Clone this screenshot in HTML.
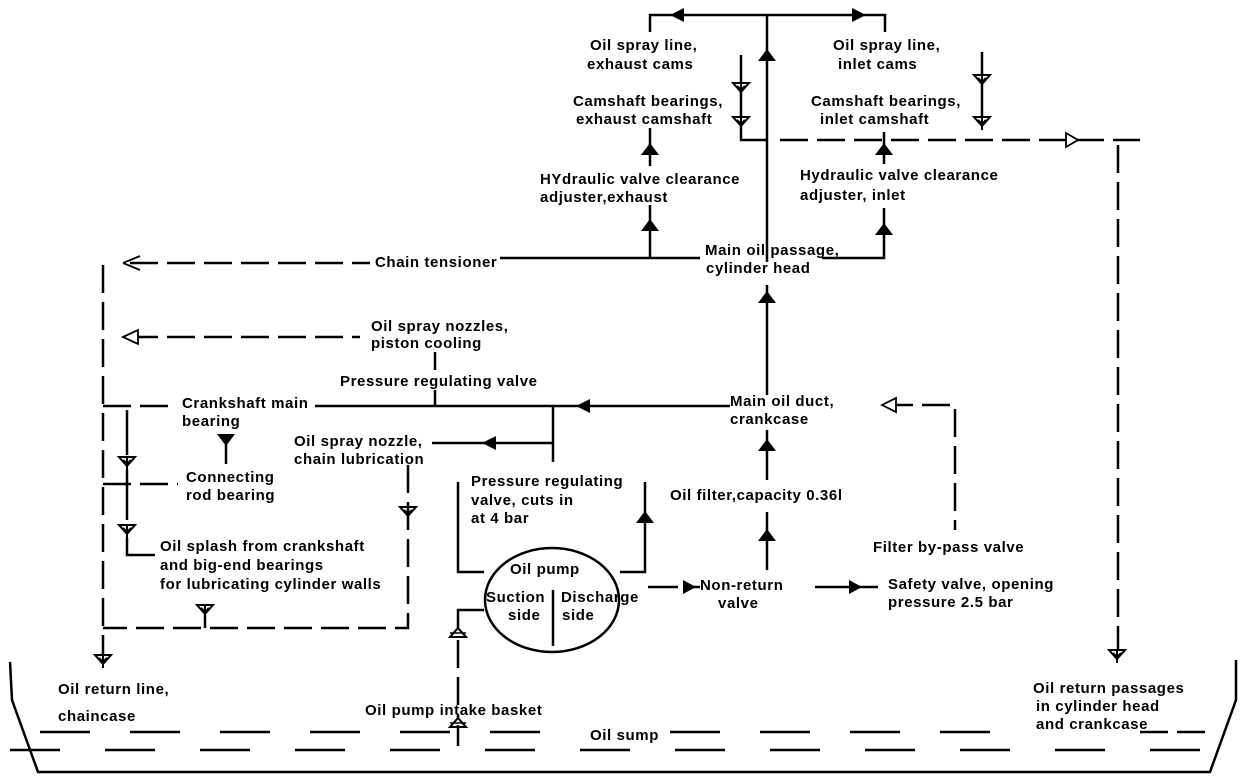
<!DOCTYPE html>
<html><head><meta charset="utf-8"><style>
html,body{margin:0;padding:0;background:#fff;}
svg{display:block;}
text{font-family:"Liberation Sans",sans-serif;font-weight:bold;font-size:15px;letter-spacing:0.6px;fill:#000;}
</style></head><body>
<svg width="1248" height="784" viewBox="0 0 1248 784" xmlns="http://www.w3.org/2000/svg">
<defs>
<g id="fu"><path d="M0,-9 L-9,3 L9,3 Z" fill="#000"/></g>
<g id="vd"><path d="M-8,-5 L8,-5 L0,4 Z M-4,-2 L0,2 L4,-2" fill="none" stroke="#000" stroke-width="2"/><line x1="0" y1="-5" x2="0" y2="8" stroke="#000" stroke-width="2"/></g>
<g id="vu"><path d="M-8,5 L8,5 L0,-4 Z" fill="none" stroke="#000" stroke-width="2"/><line x1="-8" y1="1" x2="8" y2="1" stroke="#000" stroke-width="1.5"/></g>
</defs>
<g stroke="#000" stroke-width="2.5" fill="none">
<polyline points="650,32 650,15 885,15 885,32"/>
<line x1="767" y1="15" x2="767" y2="262"/>
<line x1="767" y1="285" x2="767" y2="395"/>
<line x1="767" y1="430" x2="767" y2="480"/>
<line x1="767" y1="512" x2="767" y2="570"/>
<line x1="650" y1="128" x2="650" y2="166"/>
<line x1="650" y1="205" x2="650" y2="258"/>
<line x1="500" y1="258" x2="700" y2="258"/>
<polyline points="822,258 884,258 884,208"/>
<line x1="884" y1="132" x2="884" y2="164"/>
<polyline points="741,55 741,84"/>
<polyline points="741,92 741,118"/>
<polyline points="741,126 741,140 767,140"/>
<line x1="982" y1="52" x2="982" y2="76"/>
<line x1="982" y1="84" x2="982" y2="118"/>
<line x1="435" y1="352" x2="435" y2="370"/>
<line x1="435" y1="390" x2="435" y2="406"/>
<line x1="315" y1="406" x2="730" y2="406"/>
<line x1="553" y1="406" x2="553" y2="462"/>
<line x1="432" y1="443" x2="553" y2="443"/>
<line x1="226" y1="440" x2="226" y2="464"/>
<polyline points="127,410 127,455"/>
<polyline points="127,470 127,520"/>
<polyline points="127,538 127,555 155,555"/>
<polyline points="458,482 458,572 484,572"/>
<polyline points="620,572 645,572 645,482"/>
<line x1="553" y1="590" x2="553" y2="646"/>
<polyline points="484,610 458,610 458,630"/>
<line x1="815" y1="587" x2="878" y2="587"/>
<line x1="648" y1="587" x2="700" y2="587" stroke-dasharray="30,5"/>
<line x1="458" y1="725" x2="458" y2="746"/>
</g>
<ellipse cx="552" cy="600" rx="67" ry="52" fill="none" stroke="#000" stroke-width="2.5"/>
<g stroke="#000" stroke-width="2.5" fill="none" stroke-dasharray="28,9">
<line x1="780" y1="140" x2="1140" y2="140"/>
<line x1="1118" y1="145" x2="1118" y2="650"/>
<line x1="130" y1="263" x2="370" y2="263"/>
<line x1="103" y1="265" x2="103" y2="655"/>
<line x1="130" y1="337" x2="360" y2="337"/>
<line x1="103" y1="406" x2="175" y2="406"/>
<line x1="103" y1="484" x2="178" y2="484"/>
<polyline points="408,465 408,628 103,628"/>
<line x1="205" y1="615" x2="205" y2="628"/>
<polyline points="885,405 955,405 955,530"/>
<line x1="458" y1="640" x2="458" y2="718"/>
<line x1="40" y1="732" x2="580" y2="732" stroke-dasharray="50,40"/>
<line x1="670" y1="732" x2="1030" y2="732" stroke-dasharray="50,40"/>
<line x1="1140" y1="732" x2="1210" y2="732"/>
<line x1="10" y1="750" x2="1200" y2="750" stroke-dasharray="50,45"/>
</g>
<polyline points="10,662 12,700 38,772 1210,772 1236,700 1236,660" fill="none" stroke="#000" stroke-width="2.5"/>
<path d="M670,15 L684,8 L684,22 Z"/>
<path d="M866,15 L852,8 L852,22 Z"/>
<use href="#fu" x="767" y="58"/>
<use href="#fu" x="650" y="152"/>
<use href="#fu" x="650" y="228"/>
<use href="#fu" x="884" y="152"/>
<use href="#fu" x="884" y="232"/>
<use href="#fu" x="767" y="300"/>
<use href="#fu" x="767" y="448"/>
<use href="#fu" x="767" y="538"/>
<use href="#fu" x="645" y="520"/>
<path d="M576,406 L590,399 L590,413 Z"/>
<path d="M482,443 L496,436 L496,450 Z"/>
<path d="M226,446 L217,434 L235,434 Z"/>
<path d="M696,587 L683,580 L683,594 Z"/>
<path d="M862,587 L849,580 L849,594 Z"/>
<g fill="#fff" stroke="#000" stroke-width="1.8">
<path d="M1078,140 L1066,133 L1066,147 Z"/>
<path d="M123,263 L140,256 M123,263 L140,270"/>
<path d="M123,337 L138,330 L138,344 Z"/>
<path d="M882,405 L896,398 L896,412 Z"/>
</g>
<use href="#vd" x="741" y="88"/>
<use href="#vd" x="741" y="122"/>
<use href="#vd" x="982" y="80"/>
<use href="#vd" x="982" y="122"/>
<use href="#vd" x="1117" y="655"/>
<use href="#vd" x="103" y="660"/>
<use href="#vd" x="127" y="462"/>
<use href="#vd" x="127" y="530"/>
<use href="#vd" x="408" y="512"/>
<use href="#vd" x="205" y="610"/>
<use href="#vu" x="458" y="632"/>
<use href="#vu" x="458" y="722"/>
<text x="590" y="50">Oil spray line,</text>
<text x="587" y="69">exhaust cams</text>
<text x="833" y="50">Oil spray line,</text>
<text x="838" y="69">inlet cams</text>
<text x="573" y="106">Camshaft bearings,</text>
<text x="576" y="124">exhaust camshaft</text>
<text x="811" y="106">Camshaft bearings,</text>
<text x="820" y="124">inlet camshaft</text>
<text x="540" y="184">HYdraulic valve clearance</text>
<text x="540" y="202">adjuster,exhaust</text>
<text x="800" y="180">Hydraulic valve clearance</text>
<text x="800" y="200">adjuster, inlet</text>
<text x="705" y="255">Main oil passage,</text>
<text x="706" y="273">cylinder head</text>
<text x="375" y="267">Chain tensioner</text>
<text x="371" y="331">Oil spray nozzles,</text>
<text x="371" y="348">piston cooling</text>
<text x="340" y="386">Pressure regulating valve</text>
<text x="182" y="408">Crankshaft main</text>
<text x="182" y="426">bearing</text>
<text x="730" y="406">Main oil duct,</text>
<text x="730" y="424">crankcase</text>
<text x="294" y="446">Oil spray nozzle,</text>
<text x="294" y="464">chain lubrication</text>
<text x="186" y="482">Connecting</text>
<text x="186" y="500">rod bearing</text>
<text x="471" y="486">Pressure regulating</text>
<text x="471" y="505">valve, cuts in</text>
<text x="471" y="523">at 4 bar</text>
<text x="670" y="500">Oil filter,capacity 0.36l</text>
<text x="873" y="552">Filter by-pass valve</text>
<text x="160" y="551">Oil splash from crankshaft</text>
<text x="160" y="570">and big-end bearings</text>
<text x="160" y="589">for lubricating cylinder walls</text>
<text x="510" y="574">Oil pump</text>
<text x="486" y="602">Suction</text>
<text x="508" y="620">side</text>
<text x="561" y="602">Discharge</text>
<text x="562" y="620">side</text>
<text x="700" y="590">Non-return</text>
<text x="718" y="608">valve</text>
<text x="888" y="589">Safety valve, opening</text>
<text x="888" y="607">pressure 2.5 bar</text>
<text x="58" y="694">Oil return line,</text>
<text x="58" y="721">chaincase</text>
<text x="365" y="715">Oil pump intake basket</text>
<text x="590" y="740">Oil sump</text>
<text x="1033" y="693">Oil return passages</text>
<text x="1036" y="711">in cylinder head</text>
<text x="1036" y="729">and crankcase</text>
</svg>
</body></html>
